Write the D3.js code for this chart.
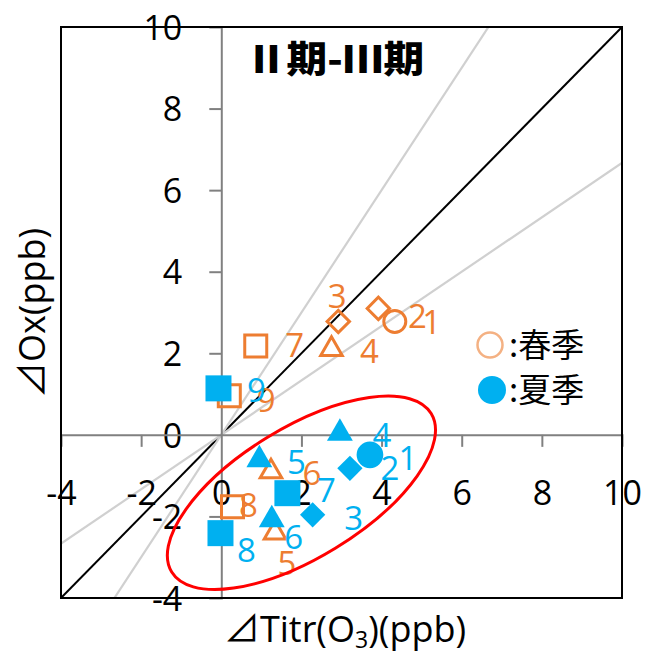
<!DOCTYPE html>
<html>
<head>
<meta charset="utf-8">
<script src="https://cdn.jsdelivr.net/npm/d3@7"></script>
<style>
  html, body { margin: 0; padding: 0; background: #fff; }
  svg { display: block; }
  text { font-family: "Open Sans", "Noto Sans", sans-serif; }
  .cjk { font-family: "Noto Sans CJK JP", sans-serif; }
</style>
</head>
<body>
<svg id="chart" width="646" height="654"></svg>
<script>
// Point labels (station numbers) and marker shape for each station
const stations = ["1", "2", "3", "4", "5", "6", "7", "8", "9"];
const shapes = ["circle", "diamond", "diamond", "triangle", "triangle", "triangle", "square", "square", "square"];

// Spring: ΔTitr(O3) (x) and ΔOx (y), ppb
const springX = [4.33, 3.92, 2.92, 2.75, 1.34, 1.24, 0.86, 0.28, 0.20];
const springY = [2.78, 3.10, 2.78, 2.10, -2.40, -0.90, 2.18, -1.76, 0.96];

// Summer: ΔTitr(O3) (x) and ΔOx (y), ppb
const summerX = [3.71, 3.21, 2.28, 2.96, 0.95, 1.26, 1.65, -0.02, -0.07];
const summerY = [-0.49, -0.82, -1.96, 0.04, -0.61, -2.08, -1.43, -2.41, 1.14];

// Axis ticks
const xTicks = [-4, -2, 0, 2, 4, 6, 8, 10];
const yTicks = [-4, -2, 0, 2, 4, 6, 8, 10];

// Reference slopes through the origin
const refSlopes = [1, 1.5, 2 / 3];

const seasons = ["春季", "夏季"];
const title = "Ⅱ期-Ⅲ期";

// ---- layout ----
const plot = { left: 61, right: 622, top: 27, bottom: 598 };
const ORANGE = "#ED7D31", BLUE = "#00B0F0", AXIS_GRAY = "#808080";

const svg = d3.select("#chart");
const x = d3.scaleLinear().domain([-4, 10]).range([plot.left, plot.right]);
const y = d3.scaleLinear().domain([-4, 10]).range([plot.bottom, plot.top]);

svg.append("defs").append("clipPath").attr("id", "plotClip")
  .append("rect")
  .attr("x", plot.left).attr("y", plot.top)
  .attr("width", plot.right - plot.left).attr("height", plot.bottom - plot.top);

// Reference lines (1:1 black, others light gray)
const refG = svg.append("g").attr("clip-path", "url(#plotClip)");
refSlopes.forEach((k, i) => {
  refG.append("line")
    .attr("x1", x(-10)).attr("y1", y(-10 * k))
    .attr("x2", x(20)).attr("y2", y(20 * k))
    .attr("stroke", i === 0 ? "#000" : "#d0d0d0")
    .attr("stroke-width", i === 0 ? 2 : 2.2);
});

// Axes crossing at the origin
const fs = 34;
const yAxis = d3.axisLeft(y).tickValues(yTicks).tickSize(12).tickPadding(27)
  .tickFormat(d3.format("d"));
const gy = svg.append("g").attr("transform", `translate(${x(0)},0)`).call(yAxis);
const xAxis = d3.axisBottom(x).tickValues(xTicks).tickSize(12).tickPadding(34)
  .tickFormat(d3.format("d"));
const gx = svg.append("g").attr("transform", `translate(0,${y(0)})`).call(xAxis);

[gx, gy].forEach(g => {
  g.select(".domain").attr("stroke", AXIS_GRAY).attr("stroke-width", 2);
  g.selectAll(".tick line").attr("stroke", AXIS_GRAY).attr("stroke-width", 2);
  g.selectAll(".tick text")
    .attr("fill", "#000")
    .style("font-family", "'Open Sans', sans-serif")
    .style("font-size", fs + "px")
    .text(d => d < 0 ? "-" + Math.abs(d) : String(d));
});
gx.selectAll(".tick").filter(d => d === -4 || d === 10 || d === 0).select("line").remove();
gy.selectAll(".tick").filter(d => d === -4 || d === 10 || d === 0).select("line").remove();
gy.selectAll(".tick text").attr("dy", "0.36em");

// Plot border
svg.append("rect")
  .attr("x", plot.left).attr("y", plot.top)
  .attr("width", plot.right - plot.left).attr("height", plot.bottom - plot.top)
  .attr("fill", "none").attr("stroke", "#000").attr("stroke-width", 2);

// Marker generator
function markerPath(shape, filled) {
  const sizes = filled
    ? { circle: 560, square: 676, triangle: 290, diamond: 320 }
    : { circle: 380, square: 484, triangle: 200, diamond: 250 };
  const type = shape === "circle" ? d3.symbolCircle
    : shape === "triangle" ? d3.symbolTriangle : d3.symbolSquare;
  return d3.symbol().type(type).size(sizes[shape])();
}

// Pixel nudges for station number labels
const labelNudge = {
  spring: [[37, 1], [39, 8], [-1, -25], [38, 2], [12, 30], [41, 2], [39, -1], [16, -2], [37, 4]],
  summer: [[38, 3], [40, 0], [41, 3], [42, 2], [37, 2], [22, 17], [39, -3], [26, 17], [38, 2]]
};

function drawSeries(xs, ys, key, color, filled) {
  const g = svg.append("g");
  stations.forEach((s, i) => {
    const px = x(xs[i]), py = y(ys[i]);
    const rot = shapes[i] === "diamond" ? " rotate(45)" : "";
    g.append("path")
      .attr("d", markerPath(shapes[i], filled))
      .attr("transform", `translate(${px},${py})${rot}`)
      .attr("fill", filled ? color : "none")
      .attr("stroke", filled ? "none" : color)
      .attr("stroke-width", filled ? 0 : 3);
  });
  stations.forEach((s, i) => {
    const [dx, dy] = labelNudge[key][i];
    g.append("text")
      .attr("x", x(xs[i]) + dx).attr("y", y(ys[i]) + dy)
      .attr("text-anchor", "middle").attr("dy", "0.36em")
      .attr("fill", color)
      .style("font-size", "33px")
      .text(s);
  });
}

drawSeries(springX, springY, "spring", ORANGE, false);
drawSeries(summerX, summerY, "summer", BLUE, true);

// Highlight ellipse around the summer cluster
const ellCx = x(2.0), ellCy = y(-1.42);
svg.append("ellipse")
  .attr("cx", 0).attr("cy", 0).attr("rx", 152).attr("ry", 65)
  .attr("transform", `translate(${ellCx},${ellCy}) rotate(-31.4)`)
  .attr("fill", "none").attr("stroke", "#FF0000").attr("stroke-width", 3);

// Legend
const lg = svg.append("g");
lg.append("circle").attr("cx", 490).attr("cy", 345).attr("r", 12.5)
  .attr("fill", "none").attr("stroke", "#F4B183").attr("stroke-width", 2.5);
lg.append("circle").attr("cx", 492).attr("cy", 390).attr("r", 14).attr("fill", BLUE);
seasons.forEach((s, i) => {
  lg.append("text").attr("class", "cjk")
    .attr("x", 509).attr("y", 345 + i * 45).attr("dy", "0.36em")
    .style("font-size", "33px").attr("fill", "#000")
    .text(":" + s);
});

// Title
svg.append("text").attr("class", "cjk")
  .attr("x", 246).attr("y", 60).attr("dy", "0.36em")
  .attr("textLength", 178).attr("lengthAdjust", "spacingAndGlyphs")
  .style("font-size", "37px").style("font-weight", 900)
  .text(title);

// Axis titles
svg.append("text")
  .attr("x", 345).attr("y", 629).attr("dy", "0.36em")
  .attr("text-anchor", "middle")
  .style("font-size", "36px")
  .html('<tspan class="cjk">⊿</tspan>Titr(O<tspan font-size="23" dy="6">3</tspan><tspan dy="-6">)(ppb)</tspan>');

svg.append("text")
  .attr("transform", `translate(32,313) rotate(-90)`)
  .attr("dy", "0.36em")
  .attr("text-anchor", "middle")
  .style("font-size", "36px")
  .html('<tspan class="cjk">⊿</tspan>Ox(ppb)');
</script>
</body>
</html>
